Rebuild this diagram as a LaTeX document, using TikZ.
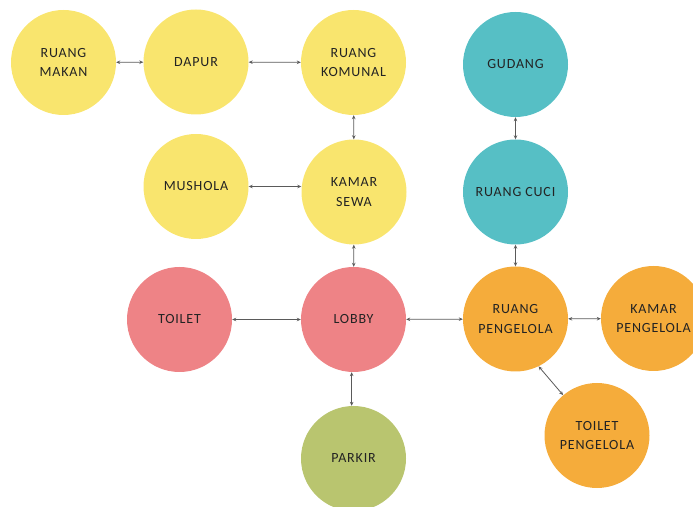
\documentclass[tikz,border=0pt]{standalone}
\usepackage{fontspec}
\setmainfont{Carlito}[LetterSpace=6]
\usetikzlibrary{arrows.meta}
\definecolor{cyel}{RGB}{249,229,110}
\definecolor{cteal}{RGB}{86,191,197}
\definecolor{cpink}{RGB}{238,131,134}
\definecolor{corange}{RGB}{245,172,59}
\definecolor{cgreen}{RGB}{185,197,111}
\definecolor{ctext}{RGB}{35,35,35}
\definecolor{carrow}{RGB}{90,90,90}
\tikzset{
  room/.style={circle, minimum size=105pt, inner sep=0pt, align=center,
    font=\fontsize{14}{19.5}\selectfont, text=ctext},
  yel/.style={room, fill=cyel},
  teal/.style={room, fill=cteal},
  pink/.style={room, fill=cpink},
  orng/.style={room, fill=corange},
  grn/.style={room, fill=cgreen},
  link/.style={draw=carrow, line width=0.8pt, {Stealth[length=4pt,width=3.5pt]}-{Stealth[length=4pt,width=3.5pt]}}
}
\begin{document}
\begin{tikzpicture}[x=1pt,y=1pt]
\useasboundingbox (0,0) rectangle (693,506);
\clip (0,0) rectangle (693,506);
\node[yel] (makan) at (63.5,443.5) {RUANG\\MAKAN};
\node[yel] (dapur) at (196,444) {DAPUR};
\node[yel] (komunal) at (353.5,443.5) {RUANG\\KOMUNAL};
\node[teal] (gudang) at (515.5,441.5) {GUDANG};
\node[yel] (mushola) at (196,319.5) {MUSHOLA};
\node[yel] (sewa) at (354,314) {KAMAR\\SEWA};
\node[teal] (cuci) at (515.5,314) {RUANG CUCI};
\node[pink] (toilet) at (179.5,186.5) {TOILET};
\node[pink] (lobby) at (353.5,186.5) {LOBBY};
\node[orng] (pengelola) at (515.5,187) {RUANG\\PENGELOLA};
\node[orng] (kamarp) at (653.5,187.5) {KAMAR\\PENGELOLA};
\node[orng] (toiletp) at (597,70.5) {TOILET\\PENGELOLA};
\node[grn] (parkir) at (353.5,47.5) {PARKIR};
\draw[link] (makan) -- (dapur);
\draw[link] (dapur) -- (komunal);
\draw[link] (komunal) -- (sewa);
\draw[link] (gudang) -- (cuci);
\draw[link] (mushola.east) -- (sewa.west|-mushola.east);
\draw[link] (sewa) -- (lobby);
\draw[link] (cuci) -- (pengelola);
\draw[link] (toilet) -- (lobby);
\draw[link] (lobby) -- (pengelola);
\draw[link] (pengelola) -- (kamarp);
\draw[link] (lobby.-92) -- (parkir.92);
\draw[link] (pengelola.-64) -- (toiletp.130);
\end{tikzpicture}
\end{document}
